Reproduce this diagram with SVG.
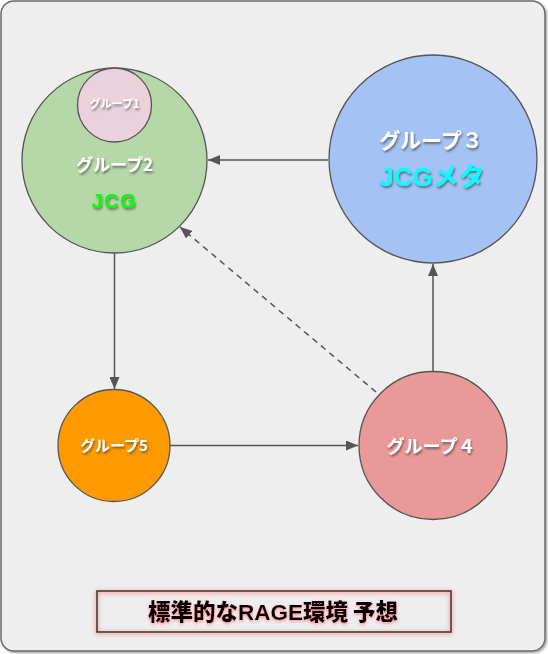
<svg xmlns="http://www.w3.org/2000/svg" width="548" height="654" viewBox="0 0 548 654">
<defs>
<style>
.node{stroke:#555;stroke-width:1.3}
.lbl{font-family:"Noto Sans CJK JP","Liberation Sans",sans-serif;font-weight:bold;text-anchor:middle;fill:#fff;filter:url(#ts)}
.lat{font-family:"Liberation Sans","Noto Sans CJK JP",sans-serif;font-weight:bold;text-anchor:middle}
.con{stroke:#555;stroke-width:1.5;fill:none}
</style>
<filter id="ts" x="-20%" y="-40%" width="140%" height="180%">
<feDropShadow dx="1" dy="2" stdDeviation="1.2" flood-color="#333" flood-opacity="0.6"/>
</filter>
<filter id="fs" x="-5%" y="-5%" width="110%" height="110%">
<feDropShadow dx="1.5" dy="1.5" stdDeviation="1" flood-color="#000" flood-opacity="0.35"/>
</filter>
<filter id="pg" x="-10%" y="-40%" width="120%" height="180%">
<feGaussianBlur stdDeviation="2"/>
</filter>
<filter id="tg" x="-10%" y="-40%" width="120%" height="180%">
<feDropShadow dx="0" dy="1.5" stdDeviation="1.5" flood-color="#f66" flood-opacity="0.7"/>
</filter>
<marker id="ah" viewBox="0 0 12 10" refX="12" refY="5" markerWidth="12" markerHeight="10" markerUnits="userSpaceOnUse" orient="auto">
<path d="M0,0 L12,5 L0,10 z" fill="#555"/>
</marker>
</defs>
<rect x="1" y="1" width="544" height="650" rx="13" fill="#eeeeee" stroke="#6a6a6a" stroke-width="1.5" filter="url(#fs)"/>
<g id="connectors">
<line class="con" x1="328" y1="160" x2="208" y2="160" marker-end="url(#ah)"/>
<line class="con" x1="114.5" y1="253" x2="114.5" y2="389" marker-end="url(#ah)"/>
<line class="con" x1="433" y1="372" x2="433" y2="264" marker-end="url(#ah)"/>
<line class="con" x1="170" y1="445.5" x2="358" y2="445.5" marker-end="url(#ah)"/>
<line class="con" x1="376" y1="392" x2="180" y2="227" stroke-dasharray="6,5" marker-end="url(#ah)"/>
</g>
<g id="group2">
<circle class="node" cx="114.5" cy="160.5" r="92.5" fill="#b6d7a8"/>
<text class="lbl" x="114.5" y="171" font-size="17">グループ2</text>
<text class="lat" x="114.5" y="208" font-size="20" letter-spacing="1.5" fill="#00ff00" filter="url(#ts)">JCG</text>
</g>
<g id="group1">
<circle class="node" cx="114.5" cy="105" r="37" fill="#ead1dc"/>
<text class="lbl" x="114.5" y="108" font-size="11">グループ1</text>
</g>
<g id="group3">
<circle class="node" cx="433" cy="159" r="104" fill="#a4c2f4"/>
<text class="lbl" x="431" y="148" font-size="21">グループ３</text>
<text x="432" y="186" font-size="26" font-weight="bold" text-anchor="middle" fill="#00ffff" filter="url(#ts)" font-family="Liberation Sans, Noto Sans CJK JP, sans-serif">JCG<tspan font-family="Noto Sans CJK JP, sans-serif">メタ</tspan></text>
</g>
<g id="group5">
<circle class="node" cx="114" cy="445.5" r="56" fill="#ff9900"/>
<text class="lbl" x="114" y="451" font-size="15">グループ5</text>
</g>
<g id="group4">
<circle class="node" cx="433" cy="445.5" r="74" fill="#ea9999"/>
<text class="lbl" x="431" y="453" font-size="18">グループ４</text>
</g>
<g id="title">
<rect x="97" y="592" width="354" height="41" fill="none" stroke="#f88" stroke-width="3" filter="url(#pg)" opacity="0.8"/>
<rect x="97" y="591" width="354" height="41" fill="none" stroke="#333" stroke-width="1.5"/>
<text x="273" y="620" font-size="22.5" font-weight="900" text-anchor="middle" fill="#000" filter="url(#tg)" font-family="Noto Sans CJK JP, Liberation Sans, sans-serif">標準的な<tspan font-family="Liberation Sans, sans-serif" font-weight="bold">RAGE</tspan>環境 予想</text>
</g>
</svg>
